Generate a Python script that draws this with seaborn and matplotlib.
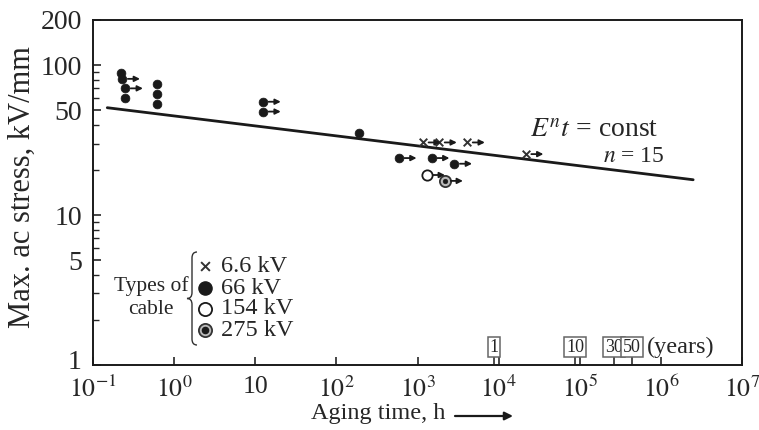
import numpy as np
import pandas as pd
import matplotlib
matplotlib.use("Agg")
import matplotlib.pyplot as plt
import matplotlib.transforms as mtransforms
from matplotlib.path import Path
from matplotlib.patches import PathPatch
import seaborn as sns

# ---------------- data ----------------
t_6_6 = [1170, 1850, 4100, 21600]
E_6_6 = [30.5, 30.5, 30.5, 25.5]
arr_6_6 = [True, True, True, True]

t_66 = [0.22, 0.23, 0.25, 0.25, 0.62, 0.62, 0.62, 12.5, 12.5, 190, 590, 1500, 2850]
E_66 = [88, 81, 70, 60, 75, 64, 55, 57, 49, 35, 24, 24, 22]
arr_66 = [False, True, True, False, False, False, False, True, True, False, True, True, True]

t_154 = [1320]
E_154 = [18.5]
arr_154 = [True]

t_275 = [2200]
E_275 = [16.9]
arr_275 = [True]

line_t = [0.15, 2.5e6]
line_E = [52, 17.2]

year_labels = ["1", "10", "30", "50"]
year_hours = [8760, 87600, 262800, 438000]

x_ticks = [1e-1, 1e0, 1e1, 1e2, 1e3, 1e4, 1e5, 1e6, 1e7]
x_ticklabels = [r"$10^{-1}$", r"$10^{0}$", "10", r"$10^{2}$", r"$10^{3}$",
                r"$10^{4}$", r"$10^{5}$", r"$10^{6}$", r"$10^{7}$"]
y_ticks = [1, 5, 10, 50, 100, 200]
y_ticklabels = ["1", "5", "10", "50", "100", "200"]

legend_labels = ["6.6 kV", "66 kV", "154 kV", "275 kV"]

# ---------------- style ----------------
sns.set_style("ticks")
plt.rcParams["font.family"] = ["Liberation Serif", "DejaVu Serif"]
plt.rcParams["mathtext.fontset"] = "stix"
plt.rcParams["axes.linewidth"] = 1.4
FS = 17.5

fig = plt.figure(figsize=(7.59, 4.30), dpi=100)
ax = fig.add_axes([93 / 759, 1 - 365 / 430, (742 - 93) / 759, (365 - 20) / 430])
ax.set_xscale("log")
ax.set_yscale("log")
ax.set_xlim(1e-1, 1e7)
ax.set_ylim(1, 200)

# regression line
sns.lineplot(x=line_t, y=line_E, ax=ax, color="#1a1a1a", lw=2.0)

# data points
df66 = pd.DataFrame({"t": t_66, "E": E_66})
df6 = pd.DataFrame({"t": t_6_6, "E": E_6_6})
df154 = pd.DataFrame({"t": t_154, "E": E_154})
df275 = pd.DataFrame({"t": t_275, "E": E_275})

sns.scatterplot(data=df66, x="t", y="E", ax=ax, marker="o", s=40,
                color="#1a1a1a", edgecolor="#1a1a1a", zorder=3)
sns.scatterplot(data=df6, x="t", y="E", ax=ax, marker="x", s=30,
                color="#333333", linewidth=1.4, zorder=3)
sns.scatterplot(data=df154, x="t", y="E", ax=ax, marker="o", s=55,
                color="white", edgecolor="#1a1a1a", linewidth=1.3, zorder=3)
sns.scatterplot(data=df275, x="t", y="E", ax=ax, marker="o", s=65,
                color="#bbbbbb", edgecolor="#333333", linewidth=1.3, zorder=3)
sns.scatterplot(data=df275, x="t", y="E", ax=ax, marker="o", s=12,
                color="#1a1a1a", edgecolor="#1a1a1a", zorder=4)

# right-pointing arrows (still surviving)
for ts, Es, flags in [(t_66, E_66, arr_66), (t_6_6, E_6_6, arr_6_6),
                      (t_154, E_154, arr_154), (t_275, E_275, arr_275)]:
    for t, E, f in zip(ts, Es, flags):
        if f:
            ax.annotate("", xy=(t * 1.65, E), xytext=(t * 1.17, E),
                        arrowprops=dict(arrowstyle="-|>", lw=1.3, color="#1a1a1a",
                                        mutation_scale=8, shrinkA=0, shrinkB=0),
                        zorder=3)

# ticks
ax.set_xticks(x_ticks)
ax.set_xticklabels(x_ticklabels, fontsize=18.5)
ax.xaxis.set_minor_locator(matplotlib.ticker.NullLocator())
ax.set_yticks(y_ticks)
ax.set_yticklabels(y_ticklabels, fontsize=20)
ax.yaxis.set_minor_locator(matplotlib.ticker.LogLocator(base=10, subs=np.arange(2, 10)))
ax.yaxis.set_minor_formatter(matplotlib.ticker.NullFormatter())
ax.tick_params(axis="both", which="major", direction="in", length=6, width=1.2)
ax.tick_params(axis="both", which="minor", direction="in", length=4, width=1.0)
ax.tick_params(axis="y", which="major", pad=8)
ax.tick_params(axis="x", which="major", pad=8)
# lift the "1" label slightly, as in the reference
shift = mtransforms.ScaledTranslation(0, 4 / 72, fig.dpi_scale_trans)
for tick in ax.yaxis.get_major_ticks():
    if abs(tick.get_loc() - 1) < 1e-9:
        tick.label1.set_transform(tick.label1.get_transform() + shift)

for sp in ax.spines.values():
    sp.set_visible(True)
    sp.set_color("#1a1a1a")

# axis labels
ax.set_ylabel("Max. ac stress, kV/mm", fontsize=22)
ax.yaxis.set_label_coords(-(93 - 37) / 649, (365 - 187) / 345)
ax.set_xlabel("Aging time, h", fontsize=FS)
ax.xaxis.set_label_coords((378 - 93) / 649, -(403 - 365) / 345)
ax.annotate("", xy=((513 - 93) / 649, -(416 - 365) / 345),
            xytext=((455 - 93) / 649, -(416 - 365) / 345),
            xycoords="axes fraction", textcoords="axes fraction",
            arrowprops=dict(arrowstyle="-|>", lw=1.6, color="#1a1a1a",
                            mutation_scale=12, shrinkA=0, shrinkB=0),
            annotation_clip=False)

# equation annotation
ax.text((530 - 93) / 649, (365 - 131) / 345, r"$E^{n}t$ = const", transform=ax.transAxes,
        fontsize=20, ha="left", va="center")
ax.text((665 - 93) / 649, (365 - 157) / 345, r"$n$ = 15", transform=ax.transAxes,
        fontsize=17, ha="right", va="center")

# year boxes
blend = mtransforms.blended_transform_factory(ax.transData, ax.transAxes)
for lab, h in zip(year_labels, year_hours):
    ax.text(h, (365 - 347) / 345, lab, transform=blend, ha="center", va="center",
            fontsize=13,
            bbox=dict(boxstyle="square,pad=0.1", fc="white", ec="#666666", lw=1.1))
    ax.plot([h, h], [0, (365 - 357) / 345], transform=blend, color="#1a1a1a", lw=1.1)
ax.text(year_hours[-1] * 1.55, (365 - 347) / 345, "(years)", transform=blend,
        ha="left", va="center", fontsize=FS)

# legend (manual, brace style)
lx = (205 - 93) / 649
ly = [(365 - y) / 345 for y in (266, 288, 309, 330)]
ax.scatter([lx], [ly[0]], marker="x", s=40, color="#333333", lw=1.4, transform=ax.transAxes)
ax.scatter([lx], [ly[1]], marker="o", s=90, color="#1a1a1a", transform=ax.transAxes)
ax.scatter([lx], [ly[2]], marker="o", s=90, facecolor="white", edgecolor="#1a1a1a",
           lw=1.3, transform=ax.transAxes)
ax.scatter([lx], [ly[3]], marker="o", s=90, facecolor="#bbbbbb", edgecolor="#333333",
           lw=1.3, transform=ax.transAxes)
ax.scatter([lx], [ly[3]], marker="o", s=20, color="#1a1a1a", transform=ax.transAxes)
for lab, y in zip(legend_labels, ly):
    ax.text((221 - 93) / 649, y, lab, transform=ax.transAxes, fontsize=FS,
            ha="left", va="center")
ax.text((151 - 93) / 649, (365 - 286) / 345, "Types of", transform=ax.transAxes,
        fontsize=15.5, ha="center", va="center")
ax.text((151 - 93) / 649, (365 - 310) / 345, "cable", transform=ax.transAxes,
        fontsize=15.5, ha="center", va="center")

# brace
bx = (192 - 93) / 649
d = 5 / 649
yt = (365 - 252) / 345
yb = (365 - 345) / 345
ym = (yt + yb) / 2
e = 6 / 345
verts = [(bx + d, yt), (bx, yt), (bx, yt - e),
         (bx, ym + e),
         (bx, ym), (bx - d, ym),
         (bx, ym), (bx, ym - e),
         (bx, yb + e),
         (bx, yb), (bx + d, yb)]
codes = [Path.MOVETO, Path.CURVE3, Path.CURVE3,
         Path.LINETO,
         Path.CURVE3, Path.CURVE3,
         Path.CURVE3, Path.CURVE3,
         Path.LINETO,
         Path.CURVE3, Path.CURVE3]
ax.add_patch(PathPatch(Path(verts, codes), transform=ax.transAxes, fill=False,
                       lw=1.0, color="#333333"))

fig.savefig("out.png", dpi=100)
